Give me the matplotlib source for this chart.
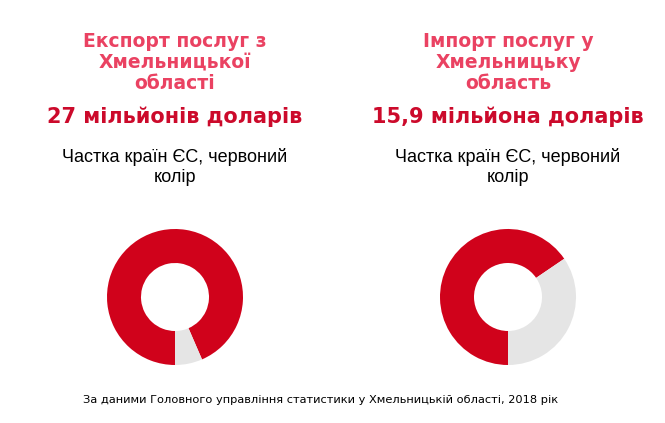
import matplotlib
matplotlib.use("Agg")
import matplotlib.pyplot as plt

titles = ["Експорт послуг з\nХмельницької\nобласті", "Імпорт послуг у\nХмельницьку\nобласть"]
totals = ["27 мільйонів доларів", "15,9 мільйона доларів"]
captions = ["Частка країн ЄС, червоний\nколір", "Частка країн ЄС, червоний\nколір"]
eu_share = [93.5, 65.5]
other_share = [6.5, 34.5]
footer = "За даними Головного управління статистики у Хмельницькій області, 2018 рік"

W, H = 665, 423
fig = plt.figure(figsize=(W / 100, H / 100), dpi=100)
fig.patch.set_facecolor("white")

centers_x = [175, 508]
cy = 297
R = 68
red = "#D0021B"
grey = "#E5E5E5"

for i in range(2):
    cx = centers_x[i]
    fig.text(cx / W, 1 - 62.5 / H, titles[i], ha="center", va="center", fontsize=13.5,
             fontweight="bold", color="#EA4262", family="DejaVu Sans", linespacing=1.12)
    fig.text(cx / W, 1 - 117 / H, totals[i], ha="center", va="center", fontsize=15,
             fontweight="bold", color="#CC0A2B", family="DejaVu Sans")
    fig.text(cx / W, 1 - 167 / H, captions[i], ha="center", va="center", fontsize=13,
             color="black", family="Liberation Sans", linespacing=1.3)
    ax = fig.add_axes([(cx - R) / W, (H - cy - R) / H, 2 * R / W, 2 * R / H])
    ax.pie([eu_share[i], other_share[i]], colors=[red, grey], startangle=270,
           counterclock=False, radius=1, wedgeprops=dict(width=0.5, linewidth=0))
    ax.set_xlim(-1, 1)
    ax.set_ylim(-1, 1)
    ax.set_aspect("equal")
    ax.axis("off")

fig.text(321 / W, 1 - 400 / H, footer, ha="center", va="center", fontsize=8.2,
         color="black", family="DejaVu Sans")

fig.savefig("out.png", dpi=100, facecolor="white")
